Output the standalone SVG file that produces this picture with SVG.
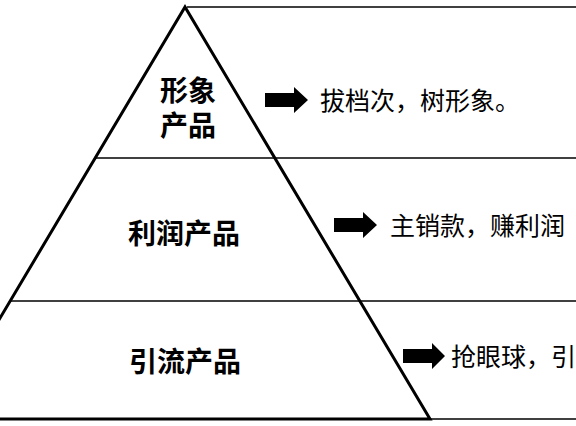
<svg xmlns="http://www.w3.org/2000/svg" width="576" height="426" viewBox="0 0 576 426">
<style>
.rule{stroke:#000;stroke-width:1.5;fill:none}
.tri{stroke:#000;stroke-width:3;fill:none;stroke-linejoin:miter}
.lbl{font-family:"Noto Sans CJK SC","Noto Sans",sans-serif;font-weight:bold;font-size:28px;fill:#000;text-anchor:middle}
.desc{font-family:"Noto Sans CJK SC","Noto Sans",sans-serif;font-size:25px;fill:#000}
.arr{fill:#000}
</style>
<rect width="576" height="426" fill="#fff"/>
<g id="connectors">
<line class="rule" x1="187" y1="7" x2="576" y2="7"/>
<line class="rule" x1="96" y1="158" x2="576" y2="158"/>
<line class="rule" x1="11" y1="301" x2="576" y2="301"/>
<line class="rule" x1="430" y1="419" x2="576" y2="419"/>
<path class="tri" d="M-60,419 L185,7 L430,419 Z"/>
<path class="arr" d="M265,93 H294 V87 L308,100 L294,113 V107 H265 Z"/>
<path class="arr" d="M334,218 H363 V212 L377,225 L363,238 V232 H334 Z"/>
<path class="arr" d="M403,349 H432 V343 L445,356 L432,369 V363 H403 Z"/>
</g>
<g id="node-image">
<text class="lbl"><tspan x="188" y="101">形象</tspan><tspan x="188" y="136">产品</tspan></text>
<text class="desc" x="320" y="110">拔档次，树形象。</text>
</g>
<g id="node-profit">
<text class="lbl" x="184" y="244">利润产品</text>
<text class="desc" x="390" y="235">主销款，赚利润</text>
</g>
<g id="node-traffic">
<text class="lbl" x="185" y="372">引流产品</text>
<text class="desc" x="451" y="366">抢眼球，引</text>
</g>
</svg>
